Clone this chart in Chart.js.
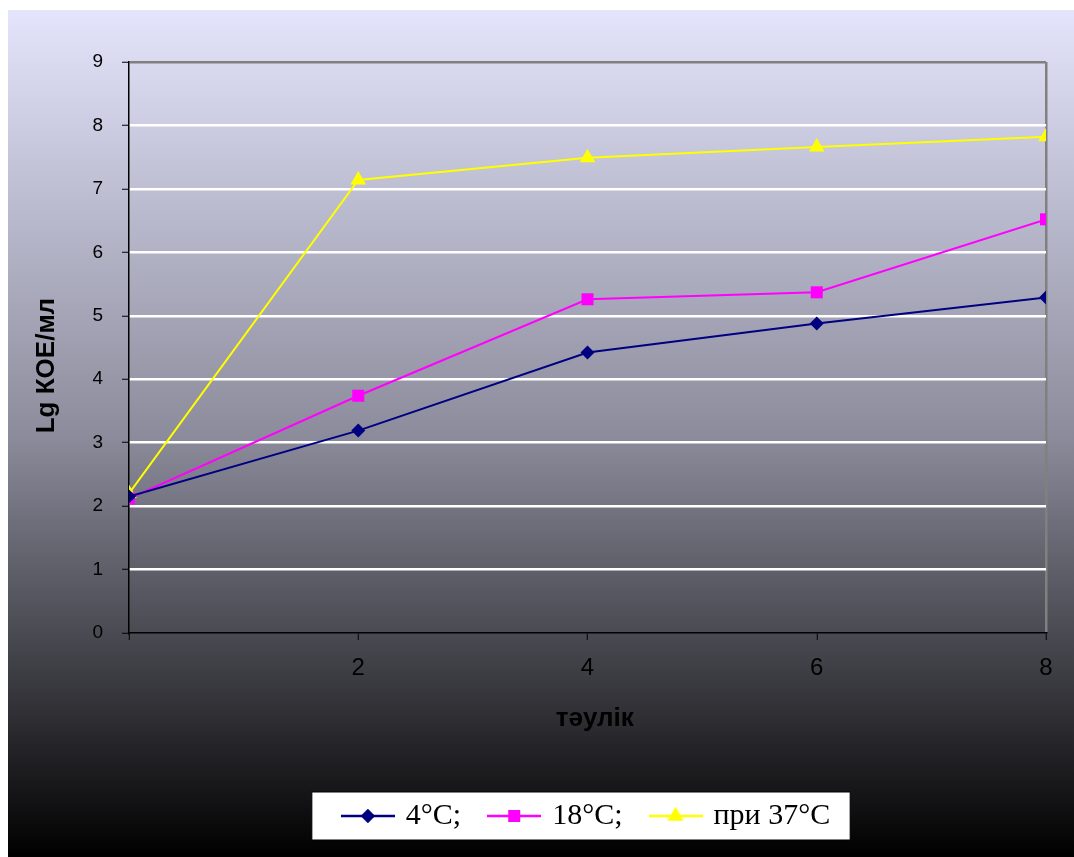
<!DOCTYPE html>
<html>
<head>
<meta charset="utf-8">
<script src="https://cdn.jsdelivr.net/npm/chart.js@4/dist/chart.umd.min.js"></script>
<style>
	body { margin: 0; background: #fff; }
	canvas { display: block; }
</style>
</head>
<body>
<canvas id="myChart" width="1074" height="857"></canvas>
<script>
// days on x, Lg KOE/ml on y
var days = [0, 2, 4, 6, 8];
var t4 = [2.15, 3.19, 4.42, 4.88, 5.29];
var t18 = [2.12, 3.74, 5.26, 5.37, 6.52];
var t37 = [2.2, 7.14, 7.49, 7.66, 7.82];
var seriesNames = ['4°C;', '18°C;', 'при 37°C'];
var xTicks = ['', '2', '4', '6', '8'];

function points(arr) {
	return arr.map(function (v, i) { return { x: days[i], y: v }; });
}

// little line + marker picture for the legend
function legendIcon(color, style, r) {
	var c = document.createElement('canvas');
	c.width = 54;
	c.height = 24;
	var ctx = c.getContext('2d');
	ctx.strokeStyle = color;
	ctx.lineWidth = 2.5;
	ctx.beginPath();
	ctx.moveTo(0, 12);
	ctx.lineTo(54, 12);
	ctx.stroke();
	ctx.fillStyle = color;
	Chart.helpers.drawPoint(ctx, { pointStyle: style, radius: r, borderWidth: 0 }, 27, 12);
	ctx.fill();
	return c;
}

var styles = [
	{ color: '#000080', style: 'rectRot', r: 7 },
	{ color: '#ff00ff', style: 'rect', r: 8.5 },
	{ color: '#ffff00', style: 'triangle', r: 9 }
];
var icons = styles.map(function (s) { return legendIcon(s.color, s.style, s.r); });

var background = {
	id: 'background',
	beforeDraw: function (chart) {
		var ctx = chart.ctx;
		ctx.save();
		ctx.fillStyle = '#fff';
		ctx.fillRect(0, 0, chart.width, chart.height);
		var g = ctx.createLinearGradient(0, 10, 0, chart.height);
		g.addColorStop(0, '#e4e4fc');
		g.addColorStop(0.5, '#8c8c9c');
		g.addColorStop(1, '#000000');
		ctx.fillStyle = g;
		ctx.fillRect(8, 10, chart.width - 8, chart.height - 10);

		// white legend box
		var boxes = chart.legend.legendHitBoxes;
		if (boxes && boxes.length) {
			var l = boxes[0].left - 33;
			var last = boxes[boxes.length - 1];
			var r = last.left + last.width + 20;
			var top = boxes[0].top + boxes[0].height / 2 - 24;
			ctx.fillStyle = '#fff';
			ctx.fillRect(l, top, r - l, 48);
			ctx.strokeStyle = '#000';
			ctx.lineWidth = 1;
			ctx.strokeRect(l, top, r - l, 48);
		}
		ctx.restore();
	}
};

var ctx = document.getElementById('myChart').getContext('2d');
var chart = new Chart(ctx, {
	type: 'line',
	data: {
		datasets: [{
			label: seriesNames[0],
			data: points(t4),
			borderColor: styles[0].color,
			backgroundColor: styles[0].color,
			pointStyle: styles[0].style,
			pointRadius: styles[0].r,
			borderWidth: 2,
			pointBorderWidth: 0
		}, {
			label: seriesNames[1],
			data: points(t18),
			borderColor: styles[1].color,
			backgroundColor: styles[1].color,
			pointStyle: styles[1].style,
			pointRadius: styles[1].r,
			borderWidth: 2,
			pointBorderWidth: 0
		}, {
			label: seriesNames[2],
			data: points(t37),
			borderColor: styles[2].color,
			backgroundColor: styles[2].color,
			pointStyle: styles[2].style,
			pointRadius: styles[2].r,
			borderWidth: 2,
			pointBorderWidth: 0
		}]
	},
	options: {
		responsive: false,
		animation: false,
		layout: { padding: { left: 8, top: 62, right: 28, bottom: 16 } },
		plugins: {
			tooltip: { enabled: false },
			legend: {
				position: 'bottom',
				fullSize: false,
				labels: {
					usePointStyle: true,
					pointStyleWidth: 46,
					padding: 30,
					color: '#000',
					font: { family: '"Liberation Serif", "Times New Roman", serif', size: 30 },
					generateLabels: function (chart) {
						var items = Chart.defaults.plugins.legend.labels.generateLabels(chart);
						items.forEach(function (it) { it.pointStyle = icons[it.datasetIndex]; });
						return items;
					}
				}
			}
		},
		scales: {
			x: {
				type: 'linear',
				min: 0,
				max: 8,
				afterFit: function (s) { s.height = 138; },
				ticks: {
					stepSize: 2,
					padding: 14,
					color: '#000',
					font: { family: '"Liberation Sans", Arial, sans-serif', size: 24 },
					callback: function (v) { return xTicks[days.indexOf(v)]; }
				},
				grid: {
					color: function (c) { return c.tick && c.tick.value == 8 ? '#808080' : 'rgba(0,0,0,0)'; },
					lineWidth: 2.5,
					tickColor: '#000',
					tickWidth: 1,
					tickLength: 7
				},
				border: { color: '#000', width: 1.5 },
				title: {
					display: true,
					text: '  тəулік',
					color: '#000',
					font: { family: '"Liberation Sans", Arial, sans-serif', size: 26, weight: 'bold' },
					padding: { top: 4, bottom: 37 }
				}
			},
			y: {
				min: 0,
				max: 9,
				afterFit: function (s) { s.width = 121; },
				ticks: {
					stepSize: 1,
					padding: 19,
					color: '#000',
					font: { family: '"Liberation Sans", Arial, sans-serif', size: 19 }
				},
				grid: {
					color: function (c) {
						if (c.tick && c.tick.value == 9) return '#808080';
						if (c.tick && c.tick.value == 0) return 'rgba(0,0,0,0)';
						return '#ffffff';
					},
					lineWidth: 2.5,
					tickColor: '#000',
					tickWidth: 1,
					tickLength: 7
				},
				border: { color: '#000', width: 1.5 },
				title: {
					display: true,
					text: 'Lg КОЕ/мл     ',
					color: '#000',
					font: { family: '"Liberation Sans", Arial, sans-serif', size: 26, weight: 'bold' },
					padding: { top: 23, bottom: 4 }
				}
			}
		}
	},
	plugins: [background]
});
</script>
</body>
</html>
